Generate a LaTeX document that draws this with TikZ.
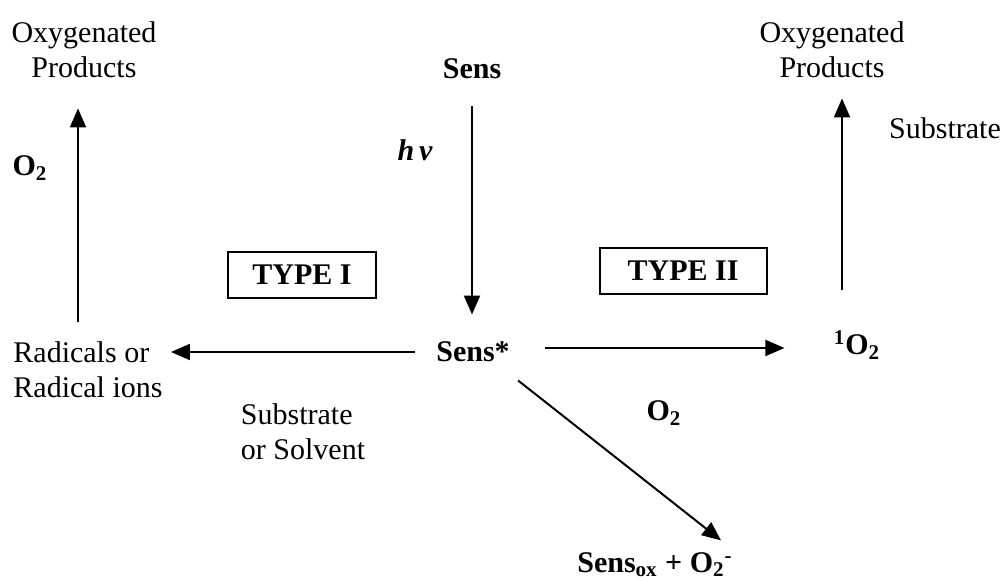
\documentclass[tikz,border=0pt]{standalone}
\usepackage{fontspec}
\setmainfont{Liberation Serif}
\usetikzlibrary{arrows.meta}
\begin{document}
\begin{tikzpicture}[x=0.5pt,y=-0.5pt,
  lbl/.style={inner sep=0pt, font=\fontsize{15}{17.5}\selectfont},
  bl/.style={inner sep=0pt, font=\fontsize{15}{17.5}\selectfont\bfseries},
  typebox/.style={draw, line width=1pt, inner sep=0pt, font=\fontsize{15}{17.5}\selectfont\bfseries, minimum height=23pt},
  arr/.style={line width=1pt, -{Triangle[length=9.5pt,width=8pt]}}]
\useasboundingbox (0,0) rectangle (1005,581);
% nodes
\node[lbl, align=center] (oxL) at (84,50) {Oxygenated\\Products};
\node[bl] (o2L) at (30,168) {O\textsubscript{2}};
\node[bl] (sens) at (472,69) {Sens};
\node[bl] (hv) at (415,150) {\itshape h\,ν};
\node[typebox, minimum width=74pt] (typeI) at (302,275) {TYPE I};
\node[typebox, minimum width=83.5pt] (typeII) at (683,271) {TYPE II};
\node[bl] (senss) at (473,352) {Sens*};
\node[lbl, align=left] (rad) at (88,370) {Radicals or\\Radical ions};
\node[lbl, align=left] (sub) at (303,432) {Substrate\\or Solvent};
\node[bl] (o1) at (857,345) {\textsuperscript{1}O\textsubscript{2}};
\node[lbl, align=center] (oxR) at (832,50) {Oxygenated\\Products};
\node[lbl] (subR) at (945,128) {Substrate};
\node[bl] (o2M) at (664,413) {O\textsubscript{2}};
\node[bl] (sox) at (655,565) {Sens\textsubscript{ox} + O\textsubscript{2}\textsuperscript{-}};
\coordinate (colL) at (78,0);
\coordinate (colR) at (842,0);
% connectors
\draw[arr, shorten <=10pt, shorten >=15pt] (rad.north -| colL) -- (oxL.south -| colL);
\draw[arr, shorten <=13.5pt, shorten >=13.5pt] (sens.south) -- (sens.south |- senss.north);
\draw[arr, shorten <=10.5pt, shorten >=4pt] (senss.west) -- (senss.west -| rad.east);
\draw[arr, shorten <=17.5pt, shorten >=24.5pt] ([yshift=2pt]senss.east) -- ([yshift=2pt]senss.east -| o1.west);
\draw[arr, shorten <=20pt, shorten >=10pt] (o1.north -| colR) -- (oxR.south -| colR);
\draw[arr] ([xshift=4pt,yshift=-9pt]senss.south east) -- ([xshift=-6pt,yshift=6pt]sox.north east);
\end{tikzpicture}
\end{document}
